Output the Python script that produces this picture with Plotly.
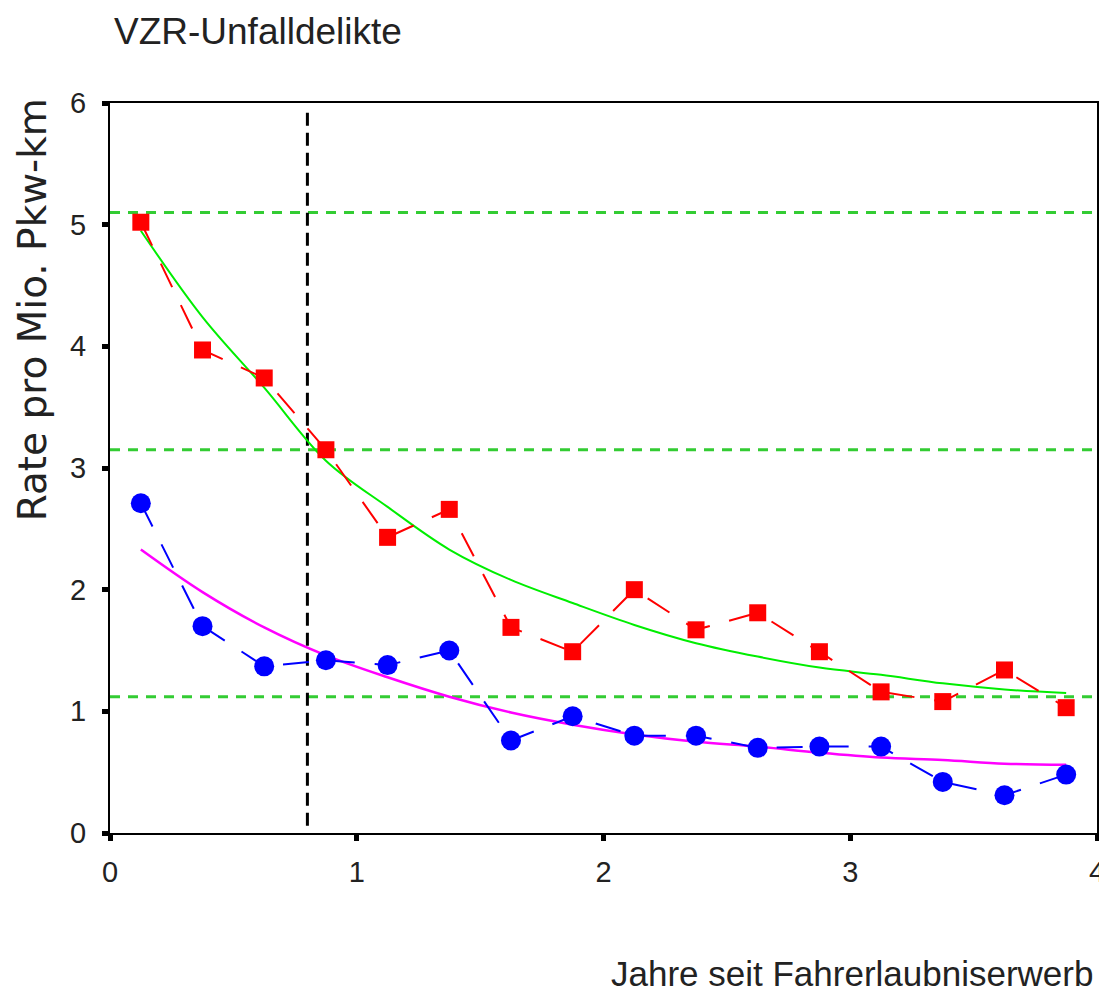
import plotly.graph_objects as go

# ---- data ----
x_mid = [0.125, 0.375, 0.625, 0.875, 1.125, 1.375, 1.625, 1.875,
         2.125, 2.375, 2.625, 2.875, 3.125, 3.375, 3.625, 3.875]
red_rate = [5.02, 3.97, 3.74, 3.15, 2.43, 2.66, 1.69, 1.49,
            2.00, 1.67, 1.81, 1.49, 1.16, 1.08, 1.34, 1.03]
blue_rate = [2.71, 1.70, 1.37, 1.42, 1.38, 1.50, 0.76, 0.96,
             0.80, 0.80, 0.70, 0.71, 0.71, 0.42, 0.31, 0.48]
green_fit = [4.95, 4.24, 3.66, 3.06, 2.68, 2.33, 2.08, 1.89,
             1.71, 1.56, 1.45, 1.36, 1.30, 1.23, 1.18, 1.15]
magenta_fit = [2.33, 1.98, 1.69, 1.46, 1.28, 1.12, 0.99, 0.89,
               0.81, 0.75, 0.71, 0.66, 0.62, 0.60, 0.57, 0.56]
ref_levels = [5.10, 3.15, 1.12]
vline_x = 0.8
x_ticks = [0, 1, 2, 3, 4]
y_ticks = [0, 1, 2, 3, 4, 5, 6]

title_text = "VZR-Unfalldelikte"
x_title = "Jahre seit Fahrerlaubniserwerb"
y_title = "Rate pro Mio. Pkw-km"

FONT = "Liberation Sans, Arial, sans-serif"

fig = go.Figure()

# reference horizontal dashed green lines
for lv in ref_levels:
    fig.add_trace(go.Scatter(x=[0, 4], y=[lv, lv], mode="lines",
                             line=dict(color="#33CC33", width=3, dash="10px,8px"),
                             showlegend=False, hoverinfo="skip"))

# vertical dashed black line
fig.add_trace(go.Scatter(x=[vline_x, vline_x], y=[0.06, 5.96], mode="lines",
                         line=dict(color="black", width=3, dash="13px,7px"),
                         showlegend=False, hoverinfo="skip"))

# fitted curves
fig.add_trace(go.Scatter(x=x_mid, y=green_fit, mode="lines",
                         line=dict(color="#00EE00", width=2, shape="spline"),
                         showlegend=False))
fig.add_trace(go.Scatter(x=x_mid, y=magenta_fit, mode="lines",
                         line=dict(color="#FF00FF", width=2.5, shape="spline"),
                         showlegend=False))

# data series
fig.add_trace(go.Scatter(x=x_mid, y=red_rate, mode="lines+markers",
                         line=dict(color="#FF0000", width=2, dash="26px,20px"),
                         marker=dict(symbol="square", size=17, color="#FF0000"),
                         showlegend=False))
fig.add_trace(go.Scatter(x=x_mid, y=blue_rate, mode="lines+markers",
                         line=dict(color="#0000FF", width=2, dash="26px,20px"),
                         marker=dict(symbol="circle", size=20, color="#0000FF"),
                         showlegend=False))

axis_common = dict(showgrid=False, zeroline=False, showline=True, linecolor="black",
                   linewidth=2, mirror=True, ticks="outside", ticklen=6, tickwidth=5,
                   tickcolor="black", ticklabeloverflow="allow",
                   tickfont=dict(family=FONT, size=29, color="#222"))

fig.update_xaxes(range=[0, 4], tickvals=x_ticks, ticklabelstandoff=6, **axis_common)
fig.update_yaxes(range=[0, 6], tickvals=y_ticks, ticklabelstandoff=10, **axis_common)

fig.update_layout(
    width=1099, height=992,
    margin=dict(l=110, r=2, t=103, b=159, autoexpand=False),
    plot_bgcolor="white", paper_bgcolor="white",
    annotations=[
        dict(text=title_text, xref="paper", yref="paper", x=0.002, y=1.0986,
             xanchor="left", yanchor="middle", showarrow=False,
             font=dict(family=FONT, size=37, color="#222")),
        dict(text=x_title, xref="paper", yref="paper", x=0.998, y=-0.193,
             xanchor="right", yanchor="middle", showarrow=False,
             font=dict(family=FONT, size=35, color="#222")),
        dict(text=y_title, xref="paper", yref="paper", x=-0.079, y=0.716,
             xanchor="center", yanchor="middle", showarrow=False, textangle=-90,
             font=dict(family="DejaVu Sans, sans-serif", size=39, color="#222")),
    ],
)

fig.write_html("out.html")
